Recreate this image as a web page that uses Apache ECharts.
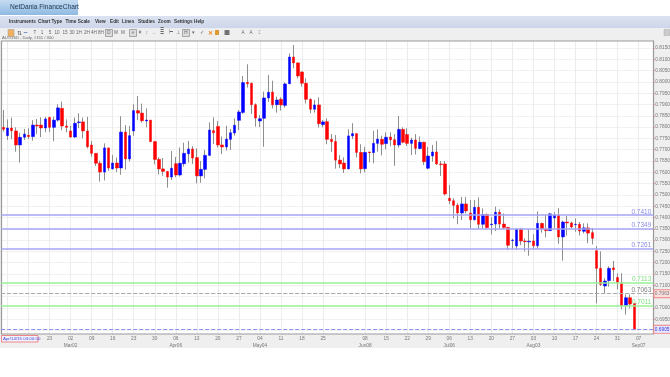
<!DOCTYPE html>
<html>
<head>
<meta charset="utf-8">
<style>html,body{margin:0;padding:0;background:#fff}#chart{width:670px;height:377px}</style>
<script src="https://cdn.jsdelivr.net/npm/echarts@6/dist/echarts.min.js"></script>
</head>
<body>
<div id="chart"></div>
<script>
const opens = [
  .7799,.7762,.7796,.7783,.7721,.7755,.7764,.7758,.7809,.7809,
  .7796,.7843,.7799,.7831,.7883,.7805,.7783,.7756,.7820,.7823,
  .7783,.7721,.7684,.7640,.7601,.7708,.7615,.7641,.7619,.7778,
  .7659,.7783,.7873,.7862,.7827,.7831,.7736,.7657,.7615,.7604,
  .7579,.7638,.7588,.7638,.7682,.7703,.7665,.7584,.7613,.7675,
  .7784,.7803,.7721,.7712,.7746,.7774,.7830,.7865,.7998,.7994,
  .7899,.7827,.7839,.7929,.7955,.7899,.7923,.7896,.7992,.8110,
  .8084,.8044,.7994,.7923,.7879,.7898,.7811,.7824,.7746,.7736,
  .7654,.7641,.7615,.7761,.7771,.7688,.7616,.7690,.7687,.7728,
  .7746,.7727,.7756,.7744,.7721,.7790,.7767,.7728,.7743,.7705,
  .7733,.7618,.7672,.7690,.7637,.7637,.7485,.7474,.7454,.7420,
  .7460,.7420,.7390,.7445,.7370,.7413,.7368,.7371,.7423,.7371,
  .7356,.7298,.7274,.7348,.7296,.7292,.7296,.7275,.7374,.7349,
  .7342,.7398,.7411,.7314,.7380,.7376,.7368,.7370,.7339,.7354,
  .7333,.7253,.7175,.7097,.7121,.7177,.7135,.7109,.7011,.7045,
  .7020
];
const closes = [
  .7790,.7796,.7784,.7721,.7755,.7769,.7758,.7809,.7805,.7796,
  .7836,.7799,.7831,.7885,.7805,.7799,.7756,.7817,.7823,.7783,
  .7713,.7684,.7640,.7601,.7708,.7619,.7641,.7619,.7778,.7659,
  .7762,.7873,.7862,.7828,.7831,.7736,.7657,.7615,.7604,.7579,
  .7618,.7588,.7640,.7684,.7703,.7663,.7584,.7613,.7675,.7787,
  .7775,.7721,.7712,.7747,.7775,.7808,.7867,.7997,.7992,.7899,
  .7840,.7837,.7929,.7954,.7899,.7920,.7898,.7991,.8110,.8084,
  .8026,.7994,.7923,.7879,.7898,.7815,.7823,.7746,.7736,.7654,
  .7637,.7615,.7761,.7771,.7688,.7615,.7688,.7687,.7728,.7747,
  .7724,.7755,.7744,.7721,.7790,.7733,.7728,.7743,.7706,.7733,
  .7647,.7672,.7690,.7637,.7634,.7504,.7474,.7454,.7420,.7460,
  .7429,.7390,.7445,.7370,.7413,.7355,.7371,.7423,.7371,.7356,
  .7277,.7300,.7348,.7296,.7293,.7295,.7275,.7374,.7349,.7342,
  .7416,.7411,.7314,.7380,.7376,.7358,.7370,.7340,.7354,.7331,
  .7308,.7175,.7104,.7119,.7175,.7169,.7112,.7011,.7045,.7017,
  .6905
];
const highs = [
  .7876,.7834,.7842,.7799,.7775,.7792,.7795,.7831,.7836,.7843,
  .7845,.7845,.7846,.7901,.7913,.7834,.7805,.7842,.7861,.7842,
  .7846,.7739,.7684,.7651,.7728,.7708,.7677,.7665,.7848,.7809,
  .7805,.7901,.7938,.7904,.7883,.7831,.7738,.7666,.7663,.7606,
  .7694,.7668,.7710,.7731,.7739,.7716,.7706,.7650,.7699,.7821,
  .7843,.7827,.7758,.7806,.7792,.7839,.7876,.8026,.8078,.7997,
  .7905,.7854,.7957,.8031,.8005,.7935,.7932,.7998,.8126,.8163,
  .8086,.8046,.8016,.7927,.7920,.7932,.7831,.7839,.7769,.7765,
  .7676,.7666,.7790,.7817,.7773,.7724,.7713,.7691,.7784,.7790,
  .7762,.7777,.7777,.7769,.7849,.7799,.7795,.7753,.7769,.7758,
  .7735,.7713,.7721,.7738,.7650,.7650,.7544,.7485,.7463,.7491,
  .7491,.7477,.7477,.7489,.7440,.7418,.7401,.7448,.7436,.7418,
  .7359,.7306,.7350,.7352,.7308,.7348,.7326,.7427,.7377,.7411,
  .7421,.7423,.7441,.7386,.7408,.7381,.7396,.7380,.7374,.7374,
  .7354,.7274,.7250,.7131,.7184,.7208,.7153,.7153,.7060,.7060,
  .7022
];
const lows = [
  .7780,.7743,.7746,.7691,.7643,.7743,.7747,.7740,.7769,.7756,
  .7777,.7778,.7737,.7824,.7786,.7777,.7753,.7752,.7795,.7750,
  .7706,.7669,.7628,.7559,.7564,.7606,.7613,.7601,.7589,.7612,
  .7647,.7762,.7831,.7820,.7799,.7734,.7635,.7591,.7585,.7532,
  .7566,.7578,.7581,.7625,.7643,.7637,.7551,.7554,.7573,.7673,
  .7725,.7709,.7681,.7696,.7699,.7762,.7787,.7858,.7975,.7858,
  .7802,.7800,.7713,.7911,.7883,.7864,.7873,.7886,.7990,.8060,
  .8016,.7979,.7905,.7861,.7864,.7798,.7799,.7724,.7690,.7616,
  .7618,.7597,.7613,.7747,.7666,.7595,.7600,.7644,.7640,.7691,
  .7675,.7702,.7716,.7629,.7709,.7728,.7716,.7676,.7679,.7702,
  .7632,.7613,.7647,.7632,.7584,.7497,.7460,.7396,.7370,.7389,
  .7418,.7349,.7387,.7349,.7352,.7351,.7325,.7340,.7352,.7348,
  .7256,.7259,.7256,.7278,.7250,.7231,.7258,.7261,.7333,.7312,
  .7340,.7352,.7284,.7209,.7320,.7352,.7337,.7320,.7330,.7286,
  .7281,.7020,.7097,.7064,.7094,.7119,.7082,.6994,.6970,.6998,
  .6902
];

// one entry per week, every 5th candle; the Jun 01 tick is missing in the chart
const weekLabels = ['09','16','23','02','09','16','23','30','06','13','20','27','04','11','18','25','',
  '08','15','22','29','06','13','20','27','03','10','17','24','31','07'];
const monthLabels = {3: 'Mar02', 8: 'Apr06', 12: 'May04', 17: 'Jun08', 21: 'Jul06', 25: 'Aug03', 30: 'Sep07'};
const blueLevels = [0.7410, 0.7349, 0.7261];
const greenLevels = [0.7113, 0.7011];
const pivotLevel = 0.7063;
const lastLevel = 0.6905;

const menuItems = [['Instruments',9],['Chart Type',38],['Time Scale',65.5],['View',95],['Edit',110],['Lines',122],['Studies',138],['Zoom',158],['Settings',174],['Help',194]];
const toolItems = [['T',35],['1',42],['5',50],['10',57],['15',65],['30',72],['1H',79],['2H',87],['4H',94],['8H',101],['D',109],['W',116],['M',123],
  ['≡',133],['#',140],['↕',147],['↔',154],['≣',162],['⊢',171],['⊥',178],['H',186],['▾',193],['✓',202],['∑',227],['A',243],['A',251],['⌶',259]];

const categories = [];
for (let i = 0; i < 155; i++) categories.push(String(i));

function weekOf(index) {
  return (index - 1) % 5 === 0 ? (index - 1) / 5 : -1;
}
const isTick = (index) => {
  const w = weekOf(index);
  return w >= 0 && w < weekLabels.length && weekLabels[w] !== '';
};

const font = '"Liberation Sans", Arial, sans-serif';
const wickData = opens.map((o, i) => [o, closes[i], lows[i], highs[i]]);
const bodyData = opens.map((o, i) => [o, closes[i], Math.min(o, closes[i]), Math.max(o, closes[i])]);

function levelLine(value, color, textColor, type, opts) {
  return {
    yAxis: value,
    lineStyle: {color: color, type: type, width: type === 'solid' ? 1.5 : 1, opacity: 1},
    label: Object.assign({
      show: true,
      position: 'insideEndTop',
      formatter: value.toFixed(4),
      color: textColor,
      fontSize: 6.5,
      fontFamily: font,
      padding: [0, 2, 0, 0],
      distance: 0
    }, opts || {})
  };
}

const boxLabel = (textColor, bg) => ({
  position: 'end',
  fontSize: 4.8,
  color: textColor,
  backgroundColor: bg,
  borderColor: '#ee8888',
  borderWidth: 1,
  padding: [1, 0.5],
  distance: 1
});

const chrome = [
  {type: 'rect', z: 50, shape: {x: 0, y: 0, width: 78, height: 15},
    style: {fill: new echarts.graphic.LinearGradient(0, 0, 0, 1, [{offset: 0, color: '#c5dcf2'}, {offset: 1, color: '#8fb9e2'}])}},
  {type: 'text', z: 51, x: 10, y: 4, style: {text: 'NetDania FinanceChart', font: '6.6px ' + font, fill: '#1f3550'}},
  {type: 'rect', z: 50, shape: {x: 0, y: 16, width: 670, height: 12.5},
    style: {fill: new echarts.graphic.LinearGradient(0, 0, 0, 1, [{offset: 0, color: '#dbe2f1'}, {offset: 1, color: '#cdd6e9'}])}},
  {type: 'rect', z: 50, shape: {x: 0, y: 28.5, width: 670, height: 12.5}, style: {fill: '#efefef'}},
  {type: 'rect', z: 50, shape: {x: 653.5, y: 28.5, width: 16.5, height: 319.5}, style: {fill: '#efefef'}},
  {type: 'rect', z: 50, shape: {x: 0, y: 28.5, width: 1.5, height: 319.5}, style: {fill: '#efefef'}},
  {type: 'rect', z: 50, shape: {x: 0, y: 334, width: 670, height: 14}, style: {fill: '#efefef'}},
  {type: 'rect', z: 55, shape: {x: 1.5, y: 41, width: 652, height: 293}, style: {fill: 'none', stroke: '#999', lineWidth: 1.2}},
  {type: 'rect', z: 51, shape: {x: 664, y: 29.5, width: 5.5, height: 6}, style: {fill: '#ccc', stroke: '#aaa', lineWidth: 0.5}},
  {type: 'text', z: 51, x: 2, y: 36, style: {text: 'AU#USD , Daily, #151 / 300', font: '4.2px ' + font, fill: '#666'}},
  {type: 'rect', z: 51, shape: {x: 8, y: 29.5, width: 6, height: 7}, style: {fill: '#f0b060', stroke: '#999', lineWidth: 0.5}},
  {type: 'text', z: 52, x: 16.5, y: 30, style: {text: '⇅', font: '6px ' + font, fill: '#555'}},
  {type: 'text', z: 52, x: 23.5, y: 30, style: {text: '~', font: 'bold 7px ' + font, fill: '#5577bb'}},
  {type: 'rect', z: 51, shape: {x: 105.5, y: 29.5, width: 7, height: 7}, style: {fill: '#ddd', stroke: '#666', lineWidth: 0.5}},
  {type: 'rect', z: 51, shape: {x: 129.5, y: 29.5, width: 7, height: 7}, style: {fill: '#ddd', stroke: '#666', lineWidth: 0.5}},
  {type: 'rect', z: 51, shape: {x: 182.5, y: 29.5, width: 7, height: 7}, style: {fill: '#ddd', stroke: '#666', lineWidth: 0.5}},
  {type: 'text', z: 52, x: 207.5, y: 30, style: {text: '✕', font: 'bold 6px ' + font, fill: '#ee8822'}},
  {type: 'rect', z: 52, shape: {x: 215, y: 30, width: 4, height: 5}, style: {fill: '#dd9933'}},
  {type: 'rect', z: 52, shape: {x: 224.5, y: 30, width: 5, height: 5}, style: {fill: '#777'}},
  // readout at the bottom left
  {type: 'rect', z: 70, shape: {x: 1.5, y: 335.5, width: 36.5, height: 6.5}, style: {fill: '#f2f2ff', stroke: '#ee8888', lineWidth: 1}},
  {type: 'text', z: 71, x: 3, y: 336.8, style: {text: 'Apr/14/15 03:00:00', font: '4.4px ' + font, fill: '#4444dd'}}
];
menuItems.forEach(function (m) {
  chrome.push({type: 'text', z: 51, x: m[1], y: 19.5, style: {text: m[0], font: 'bold 4.7px ' + font, fill: '#333'}});
});
toolItems.forEach(function (t) {
  chrome.push({type: 'text', z: 52, x: t[1], y: 30, style: {text: t[0], font: '4.6px ' + font, fill: '#666', align: 'center'}});
});

const chart = echarts.init(document.getElementById('chart'));
chart.setOption({
  animation: false,
  backgroundColor: '#fff',
  grid: {left: 1.2, right: 16.7, top: 36.7, bottom: 35.2, containLabel: false, outerBoundsMode: 'none'},
  graphic: {elements: chrome},
  xAxis: [
    {
      type: 'category',
      data: categories,
      axisLine: {show: false},
      axisTick: {show: false},
      axisLabel: {show: false},
      splitLine: {show: true, alignWithLabel: true, interval: (i) => isTick(i), lineStyle: {color: '#ececec', width: 1}}
    },
    {
      type: 'category',
      data: categories,
      z: 60,
      position: 'bottom',
      offset: -8,
      axisLine: {show: false},
      axisTick: {show: false},
      splitLine: {show: false},
      axisLabel: {
        show: true,
        margin: 2,
        interval: (i) => isTick(i),
        fontSize: 4.8,
        lineHeight: 6.5,
        color: '#777',
        fontFamily: font,
        hideOverlap: false,
        formatter: (value, i) => {
          const w = weekOf(i);
          return monthLabels[w] ? weekLabels[w] + '\n' + monthLabels[w] : weekLabels[w];
        }
      }
    }
  ],
  yAxis: [
    {
      type: 'value',
      min: 0.685,
      max: 0.82,
      interval: 0.005,
      position: 'left',
      axisLine: {show: false},
      axisTick: {show: false},
      axisLabel: {show: false},
      splitLine: {show: true, lineStyle: {color: '#f1f1f1', width: 1}}
    },
    {
      type: 'value',
      min: 0.685,
      max: 0.82,
      interval: 0.005,
      position: 'right',
      z: 60,
      axisLine: {show: false},
      axisTick: {show: true, length: 1.5, lineStyle: {color: '#dd8888', width: 1}},
      splitLine: {show: false},
      axisLabel: {
        show: true,
        margin: 2,
        fontSize: 4.8,
        color: '#777',
        fontFamily: font,
        showMinLabel: false,
        showMaxLabel: false,
        formatter: (v) => v.toFixed(4)
      }
    }
  ],
  series: [
    {
      // horizontal levels live on their own empty series
      type: 'line',
      name: 'levels',
      z: 2,
      data: [],
      markLine: {
        symbol: 'none',
        silent: true,
        precision: 4,
        z: 65,
        data: blueLevels.map((v) => levelLine(v, '#a4a4f4', '#8a8ae8', 'solid'))
          .concat(greenLevels.map((v) => levelLine(v, '#96f096', '#7fe07f', 'solid')))
          .concat([
            levelLine(pivotLevel, '#aaaaaa', '#808080', 'dashed'),
            levelLine(pivotLevel, '#aaaaaa', '#808080', 'dashed', boxLabel('#777', '#fbdede')),
            levelLine(lastLevel, '#8f8ff4', '#8080f0', 'dashed', boxLabel('#3333dd', '#e8e8ff'))
          ])
      }
    },
    {
      type: 'candlestick',
      name: 'wicks',
      z: 3,
      barWidth: 1,
      data: wickData,
      itemStyle: {color: '#8e8e8e', color0: '#8e8e8e', borderColor: '#8e8e8e', borderColor0: '#8e8e8e', borderWidth: 1}
    },
    {
      // coloured bodies on the twin axes so they sit right over the wicks
      type: 'candlestick',
      name: 'AUD/USD',
      xAxisIndex: 1,
      yAxisIndex: 1,
      z: 4,
      barWidth: 3,
      data: bodyData,
      itemStyle: {color: '#0000ff', color0: '#ff0000', borderColor: '#0000ff', borderColor0: '#ff0000', borderWidth: 0.5}
    }
  ]
});
</script>
</body>
</html>
